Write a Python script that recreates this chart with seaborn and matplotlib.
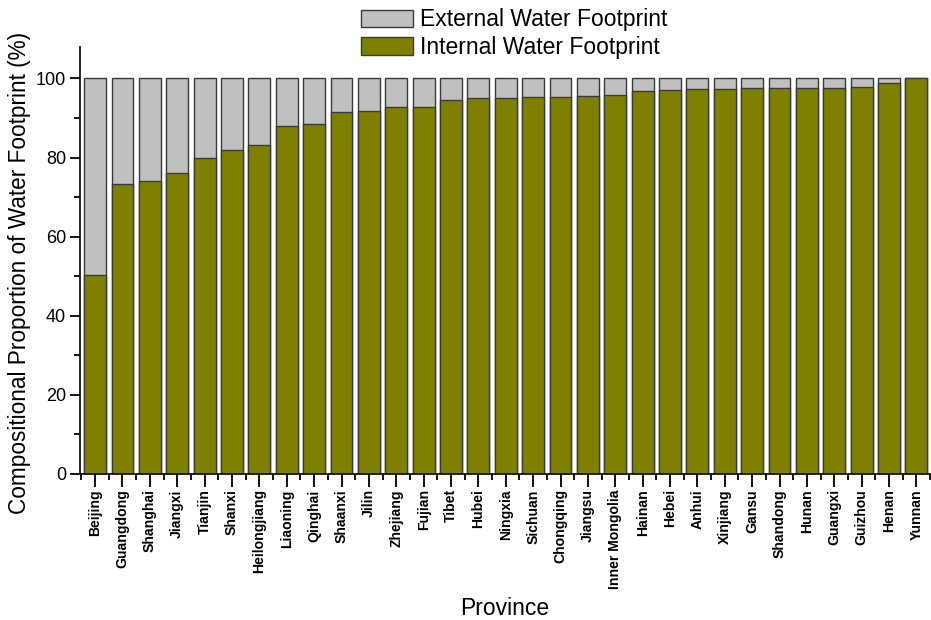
import matplotlib
matplotlib.use("Agg")
import matplotlib.pyplot as plt
from matplotlib.patches import Patch
from matplotlib.ticker import MultipleLocator, FixedLocator
import seaborn as sns
import pandas as pd

provinces = [
    "Beijing", "Guangdong", "Shanghai", "Jiangxi", "Tianjin", "Shanxi",
    "Heilongjiang", "Liaoning", "Qinghai", "Shaanxi", "Jilin", "Zhejiang",
    "Fujian", "Tibet", "Hubei", "Ningxia", "Sichuan", "Chongqing", "Jiangsu",
    "Inner Mongolia", "Hainan", "Hebei", "Anhui", "Xinjiang", "Gansu",
    "Shandong", "Hunan", "Guangxi", "Guizhou", "Henan", "Yunnan",
]
internal_pct = [
    50.4, 73.4, 74.1, 76.1, 79.9, 81.8,
    83.3, 88.0, 88.4, 91.5, 91.7, 92.8,
    92.8, 94.6, 95.0, 95.1, 95.3, 95.3, 95.6,
    95.7, 96.9, 97.2, 97.3, 97.3, 97.6,
    97.6, 97.6, 97.7, 97.9, 98.9, 100.0,
]
total_pct = [100.0] * len(provinces)

df = pd.DataFrame({"Province": provinces, "Internal": internal_pct, "Total": total_pct})

sns.set_theme(style="ticks")
plt.rcParams["font.family"] = ["Liberation Sans", "DejaVu Sans"]
plt.rcParams["text.color"] = "black"
plt.rcParams["axes.labelcolor"] = "black"
plt.rcParams["xtick.color"] = "black"
plt.rcParams["ytick.color"] = "black"

ext_color = "#c0c0c0"
int_color = "#808000"
edge = "#3a3a3a"

fig = plt.figure(figsize=(9.31, 6.2), dpi=100)
ax = fig.add_axes([0.086, 0.2355, 0.913, 0.689])

# stacked look: full 100% bar in grey, internal share drawn over it in olive
sns.barplot(data=df, x="Province", y="Total", order=provinces, color=ext_color,
            width=0.8, edgecolor=edge, linewidth=1.0, saturation=1, ax=ax)
sns.barplot(data=df, x="Province", y="Internal", order=provinces, color=int_color,
            width=0.8, edgecolor=edge, linewidth=1.0, saturation=1, ax=ax)

ax.set_xlim(-0.55, len(provinces) - 0.5)
ax.set_ylim(0, 108)
ax.yaxis.set_major_locator(MultipleLocator(20))
ax.yaxis.set_minor_locator(MultipleLocator(10))
ax.xaxis.set_minor_locator(FixedLocator([i + 0.5 for i in range(-1, len(provinces))]))

sns.despine(ax=ax, top=True, right=True)
for side in ("left", "bottom"):
    ax.spines[side].set_linewidth(1.3)
    ax.spines[side].set_color("#111111")

ax.tick_params(axis="y", which="major", length=7, width=1.3, labelsize=13, direction="out", pad=3)
ax.tick_params(axis="y", which="minor", length=4, width=1.3, direction="out")
ax.tick_params(axis="x", which="major", length=9, width=1.3, direction="out", pad=2)
ax.tick_params(axis="x", which="minor", length=4, width=1.3, direction="out")
ax.set_xticks(range(len(provinces)))
ax.set_xticklabels(provinces, rotation=90, fontsize=10.1, fontweight="bold")

ax.set_xlabel("Province", fontsize=16.5, labelpad=6)
ax.set_ylabel("Compositional Proportion of Water Footprint (%)", fontsize=16.3)
ax.yaxis.set_label_coords(-0.058, 0.47)

handles = [
    Patch(facecolor=ext_color, edgecolor=edge, linewidth=1.0, label="External Water Footprint"),
    Patch(facecolor=int_color, edgecolor=edge, linewidth=1.0, label="Internal Water Footprint"),
]
fig.legend(handles=handles, loc="upper left", bbox_to_anchor=(0.385, 0.99),
           frameon=False, fontsize=16.5, handlelength=2.3, handleheight=0.8,
           handletextpad=0.3, labelspacing=0.2, borderaxespad=0.0, borderpad=0.1)

fig.savefig("out.png", dpi=100)
